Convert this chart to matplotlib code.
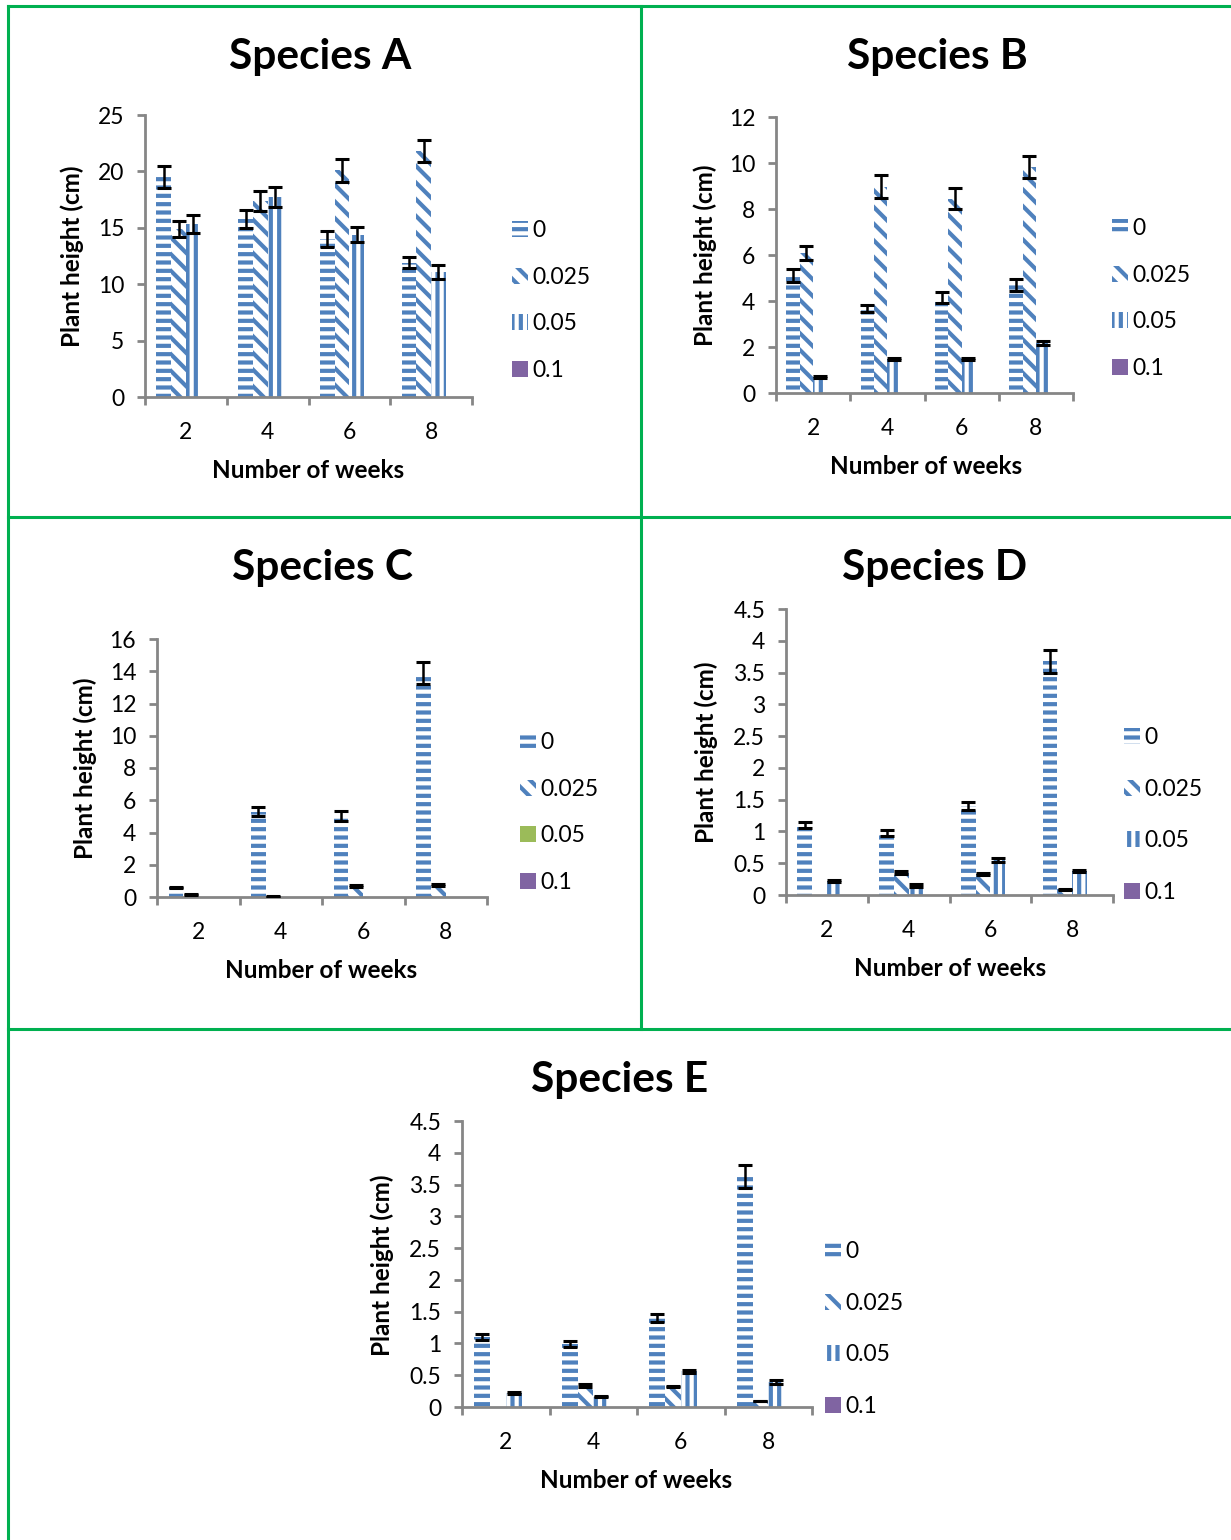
import matplotlib
matplotlib.use("Agg")
import matplotlib.pyplot as plt
import numpy as np
from matplotlib.patches import Patch
from matplotlib.lines import Line2D

plt.rcParams['font.family'] = ['Lato', 'DejaVu Sans']
plt.rcParams['hatch.linewidth'] = 3.0

W, H = 1231, 1540

weeks = ["2", "4", "6", "8"]
series = ["0", "0.025", "0.05", "0.1"]

# Species A
a_vals = {"0": [19.5, 15.8, 14.0, 11.9],
          "0.025": [14.9, 17.4, 20.1, 21.8],
          "0.05": [15.3, 17.7, 14.4, 11.1],
          "0.1": [0, 0, 0, 0]}
a_err = {"0": [1.0, 0.8, 0.7, 0.5],
         "0.025": [0.7, 0.9, 1.0, 1.0],
         "0.05": [0.8, 0.9, 0.7, 0.6],
         "0.1": [0, 0, 0, 0]}
# Species B
b_vals = {"0": [5.1, 3.67, 4.14, 4.7],
          "0.025": [6.1, 8.97, 8.45, 9.83],
          "0.05": [0.7, 1.49, 1.49, 2.17],
          "0.1": [0, 0, 0, 0]}
b_err = {"0": [0.27, 0.15, 0.23, 0.27],
         "0.025": [0.3, 0.5, 0.45, 0.48],
         "0.05": [0.04, 0.05, 0.05, 0.1],
         "0.1": [0, 0, 0, 0]}
# Species C
c_vals = {"0": [0.6, 5.3, 5.03, 13.9],
          "0.025": [0.15, 0.05, 0.7, 0.76],
          "0.05": [0, 0, 0, 0],
          "0.1": [0, 0, 0, 0]}
c_err = {"0": [0.05, 0.3, 0.3, 0.7],
         "0.025": [0.05, 0.02, 0.05, 0.05],
         "0.05": [0, 0, 0, 0],
         "0.1": [0, 0, 0, 0]}
# Species D
d_vals = {"0": [1.1, 0.98, 1.4, 3.68],
          "0.025": [0, 0.35, 0.33, 0.09],
          "0.05": [0.22, 0.15, 0.55, 0.38],
          "0.1": [0, 0, 0, 0]}
d_err = {"0": [0.05, 0.05, 0.07, 0.18],
         "0.025": [0, 0.02, 0.02, 0.01],
         "0.05": [0.02, 0.02, 0.03, 0.02],
         "0.1": [0, 0, 0, 0]}
# Species E
e_vals = {"0": [1.1, 0.99, 1.4, 3.62],
          "0.025": [0, 0.34, 0.32, 0.095],
          "0.05": [0.22, 0.16, 0.56, 0.39],
          "0.1": [0, 0, 0, 0]}
e_err = {"0": [0.05, 0.05, 0.07, 0.18],
         "0.025": [0, 0.02, 0.01, 0.005],
         "0.05": [0.01, 0.01, 0.02, 0.03],
         "0.1": [0, 0, 0, 0]}

BLUE = '#4F81BD'
PURPLE = '#8064A2'
GREEN = '#9BBB59'
GRAY = '#868686'
BORDER = '#00B050'

styles = {"0": dict(facecolor='white', edgecolor=BLUE, hatch='--'),
          "0.025": dict(facecolor='white', edgecolor=BLUE, hatch='\\\\'),
          "0.05": dict(facecolor='white', edgecolor=BLUE, hatch='||'),
          "0.1": dict(facecolor=PURPLE, edgecolor=PURPLE, hatch=None)}

fig = plt.figure(figsize=(W / 100, H / 100), dpi=100)


def px_axes(x0, y0, x1, y1):
    return fig.add_axes([x0 / W, 1 - y1 / H, (x1 - x0) / W, (y1 - y0) / H])


def panel(box, vals, errs, ymax, ystep, title, title_xy, ylab_xy, xlab_xy,
          leg_xy, leg_space, green05=False):
    ax = px_axes(*box)
    x = np.arange(1, 5)
    bw = 0.18
    for i, s in enumerate(series):
        pos = x + (i - 1.5) * bw
        ax.bar(pos, vals[s], width=bw, linewidth=0, **styles[s])
        e = np.array(errs[s])
        v = np.array(vals[s])
        m = e > 0
        if m.any():
            ax.errorbar(pos[m], v[m], yerr=e[m], fmt='none', ecolor='black',
                        elinewidth=1.8, capsize=5, capthick=2.2, zorder=5)
    ax.set_xlim(0.5, 4.5)
    ax.set_ylim(0, ymax)
    ticks = np.arange(0, ymax + ystep / 2, ystep)
    ax.set_yticks(ticks)
    ax.set_yticklabels([f"{t:g}" for t in ticks])
    ax.set_xticks(x)
    ax.set_xticklabels(weeks)
    ax.set_xticks(np.arange(0.5, 4.6, 1), minor=True)
    ax.tick_params(axis='x', which='major', length=0, pad=18, labelsize=16.5)
    ax.tick_params(axis='x', which='minor', length=6, width=2, color=GRAY)
    ax.tick_params(axis='y', length=6, width=2, color=GRAY, labelsize=16.5, pad=9)
    for sp in ['top', 'right']:
        ax.spines[sp].set_visible(False)
    for sp in ['left', 'bottom']:
        ax.spines[sp].set_color(GRAY)
        ax.spines[sp].set_linewidth(2)
    ax.patch.set_alpha(0)
    fig.text(title_xy[0] / W, 1 - title_xy[1] / H, title, ha='center', va='center',
             fontsize=30.5, fontweight='bold')
    fig.text(ylab_xy[0] / W, 1 - ylab_xy[1] / H, "Plant height (cm)", ha='center',
             va='center', rotation=90, fontsize=17.5, fontweight='bold')
    fig.text(xlab_xy[0] / W, 1 - xlab_xy[1] / H, "Number of weeks", ha='center',
             va='center', fontsize=17.5, fontweight='bold')
    handles = []
    for s in series:
        st = dict(styles[s])
        if green05 and s == "0.05":
            st = dict(facecolor=GREEN, edgecolor=GREEN, hatch=None)
        handles.append(Patch(linewidth=0, **st))
    fig.legend(handles, series, loc='upper left',
               bbox_to_anchor=(leg_xy[0] / W, 1 - leg_xy[1] / H),
               frameon=False, fontsize=16.5, handlelength=0.7, handleheight=0.7,
               handletextpad=0.2, labelspacing=leg_space, borderpad=0,
               borderaxespad=0)
    return ax


panel((145, 115, 472, 397), a_vals, a_err, 25, 5, "Species A", (320, 57), (72, 256),
      (308, 470), (512, 220), 1.12)
panel((776, 117, 1073, 393), b_vals, b_err, 12, 2, "Species B", (937, 57), (705, 255),
      (926, 466), (1112, 218), 1.12)
panel((157, 639, 487, 897), c_vals, c_err, 16, 2, "Species C", (323, 568), (85, 768),
      (321, 970), (520, 732), 1.12, green05=True)
panel((786, 609, 1113, 895), d_vals, d_err, 4.5, 0.5, "Species D", (935, 568), (706, 752),
      (950, 968), (1124, 727), 1.34)
panel((462, 1121, 812, 1407), e_vals, e_err, 4.5, 0.5, "Species E", (620, 1080), (382, 1265),
      (636, 1480), (825, 1241), 1.34)


def gline(xs, ys):
    fig.add_artist(Line2D([x / W for x in xs], [1 - y / H for y in ys],
                          color=BORDER, linewidth=2.2))

gline([8, 8], [6, 1540])
gline([8, 1231], [6, 6])
gline([641, 641], [6, 1029])
gline([8, 1231], [517, 517])
gline([8, 1231], [1029, 1029])

fig.savefig("out.png", dpi=100)
